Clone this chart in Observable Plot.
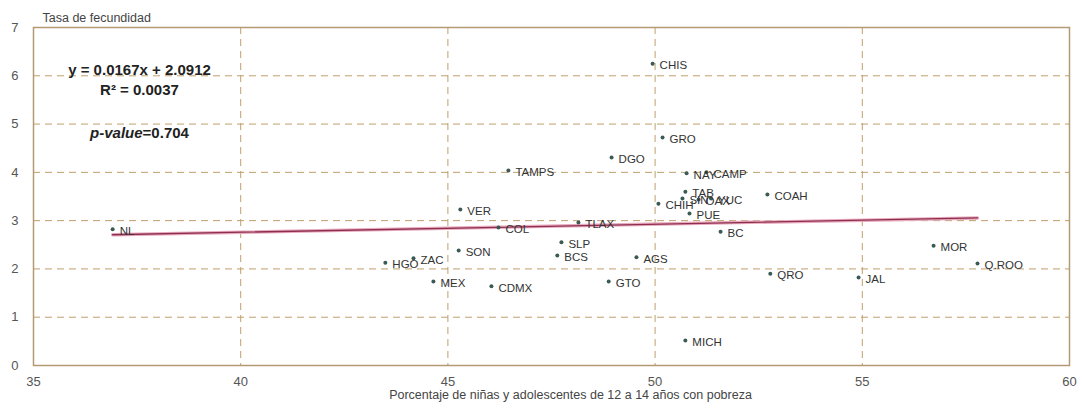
<!DOCTYPE html>
<html><head><meta charset="utf-8">
<script src="https://cdn.jsdelivr.net/npm/d3@7"></script>
<script src="https://cdn.jsdelivr.net/npm/@observablehq/plot@0.6"></script>
<style>body{margin:0;background:#fff}</style>
</head><body><div id="chart"></div>
<script>
const estados = ["NL","HGO","ZAC","MEX","VER","SON","COL","CDMX","TAMPS","TLAX","SLP","BCS","AGS","GTO","DGO","CHIS","GRO","NAY","CAMP","TAB","SIN","OAX","YUC","CHIH","PUE","BC","COAH","MOR","Q.ROO","QRO","JAL","MICH"];
const pobreza = [36.91,43.49,44.17,44.65,45.30,45.26,46.22,46.05,46.46,48.15,47.74,47.64,49.55,48.88,48.95,49.94,50.18,50.76,51.24,50.73,50.66,51.05,51.35,50.08,50.83,51.58,52.71,56.72,57.78,52.78,54.91,50.73];
const fecundidad = [2.82,2.13,2.22,1.74,3.23,2.38,2.86,1.64,4.04,2.96,2.55,2.28,2.24,1.74,4.31,6.25,4.72,3.98,4.00,3.60,3.46,3.44,3.46,3.35,3.15,2.77,3.54,2.48,2.11,1.90,1.82,0.52];
const xTicks = [35,40,45,50,55,60];
const yTicks = [0,1,2,3,4,5,6,7];
const xGrid = [40,45,50,55];
const yGrid = [1,2,3,4,5,6];
const pendiente = 0.0167, intercepto = 2.0912;
const ecuacion = "y = 0.0167x + 2.0912";
const r2 = "R² = 0.0037";
const pvalor = ["p-value", "=0.704"];
const tituloY = "Tasa de fecundidad";
const tituloX = "Porcentaje de niñas y adolescentes de 12 a 14 años con pobreza";

const data = estados.map((e, i) => ({estado: e, x: pobreza[i], y: fecundidad[i]}));
const trend = [d3.min(pobreza), d3.max(pobreza)].map(x => ({x, y: pendiente * x + intercepto}));
const gridStyle = {stroke: "#bf9f6c", strokeOpacity: 1, strokeWidth: 1, strokeDasharray: "7,5"};
const narrow = "'Liberation Sans Narrow', 'Liberation Sans', sans-serif";

const chart = Plot.plot({
  width: 1082, height: 409,
  marginLeft: 33, marginRight: 13, marginTop: 27, marginBottom: 44,
  style: {fontFamily: "'Liberation Sans', Arial, sans-serif", background: "#fff"},
  x: {domain: [35, 60]},
  y: {domain: [0, 7]},
  marks: [
    Plot.gridX(xGrid, gridStyle),
    Plot.gridY(yGrid, gridStyle),
    Plot.frame({stroke: "#b39a74", strokeWidth: 1.5}),
    Plot.axisX({ticks: xTicks, tickFormat: "d", tickSize: 0, tickPadding: 11, fontSize: 13, color: "#555", label: null, fontFamily: narrow}),
    Plot.axisY({ticks: yTicks, tickFormat: "d", tickSize: 0, tickPadding: 15, fontSize: 13, color: "#555", label: null, fontFamily: narrow}),
    Plot.line(trend, {x: "x", y: "y", stroke: "#e8aabd", strokeWidth: 3.5}),
    Plot.line(trend, {x: "x", y: "y", stroke: "#8e2f50", strokeWidth: 1.3}),
    Plot.dot(data, {x: "x", y: "y", r: 2, fill: "#3b5a55"}),
    Plot.text(data, {x: "x", y: "y", text: "estado", textAnchor: "start", dx: 7, dy: 2, fontSize: 11.5, fill: "#333"}),
    Plot.text([ecuacion], {frameAnchor: "top-left", dx: 106, dy: 37, text: d => d, textAnchor: "middle", fontSize: 15, fontWeight: "bold", fill: "#222"}),
    Plot.text([r2], {frameAnchor: "top-left", dx: 106, dy: 57, text: d => d, textAnchor: "middle", fontSize: 15, fontWeight: "bold", fill: "#222"}),
    Plot.text([pvalor.join("")], {frameAnchor: "top-left", dx: 106, dy: 100, text: d => d, textAnchor: "middle", fontSize: 15, fontWeight: "bold", fill: "#222"}),
    Plot.text([tituloY], {frameAnchor: "top-left", dx: 9, dy: -14, text: d => d, textAnchor: "start", fontSize: 12.5, fill: "#444"}),
    Plot.text([tituloX], {frameAnchor: "bottom", dx: 19, dy: 33, text: d => d, textAnchor: "middle", fontSize: 12.5, fill: "#444", fontFamily: narrow})
  ]
});

d3.select(chart).selectAll("text").filter(function () { return this.textContent === pvalor.join(""); })
  .each(function () {
    const t = d3.select(this);
    t.text(null);
    t.append("tspan").attr("font-style", "italic").text(pvalor[0]);
    t.append("tspan").text(pvalor[1]);
  });

document.getElementById("chart").appendChild(chart);
</script>
</body></html>
